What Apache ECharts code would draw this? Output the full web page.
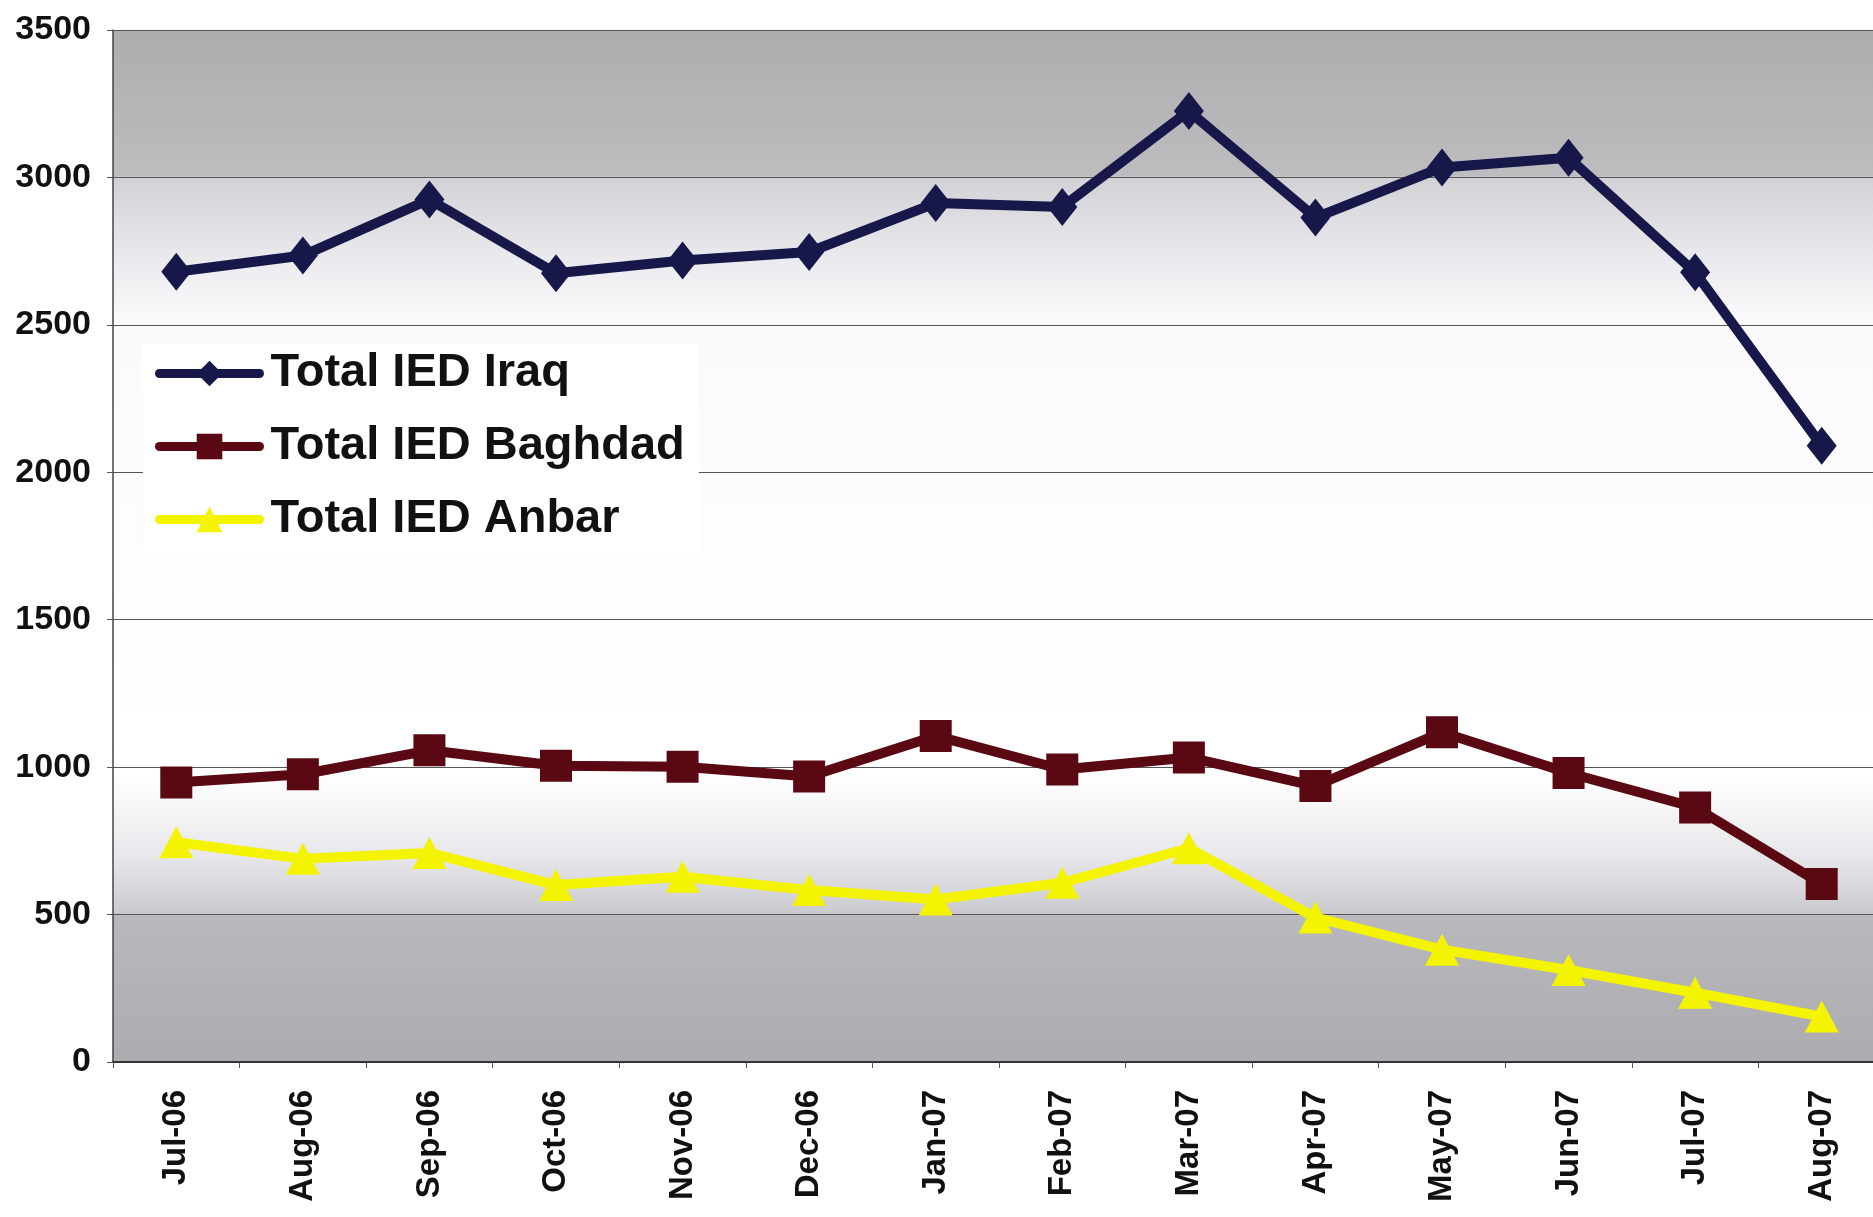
<!DOCTYPE html>
<html>
<head>
<meta charset="utf-8">
<script src="https://cdn.jsdelivr.net/npm/echarts@6/dist/echarts.min.js"></script>
<style>
html,body{margin:0;padding:0;background:#fff;overflow:hidden;}
#chart{width:1885px;height:1217px;}
</style>
</head>
<body>
<div id="chart"></div>
<script>
const months = ["Jul-06","Aug-06","Sep-06","Oct-06","Nov-06","Dec-06","Jan-07","Feb-07","Mar-07","Apr-07","May-07","Jun-07","Jul-07","Aug-07"];
const iraq = [2680, 2735, 2925, 2675, 2718, 2747, 2913, 2900, 3225, 2864, 3034, 3067, 2678, 2090];
const baghdad = [948, 976, 1057, 1005, 1001, 968, 1106, 992, 1033, 936, 1118, 980, 863, 604];
const anbar = [745, 689, 709, 600, 628, 583, 551, 608, 725, 490, 381, 312, 235, 154];
const seriesNames = ["Total IED Iraq", "Total IED Baghdad", "Total IED Anbar"];

const chart = echarts.init(document.getElementById('chart'), null, {renderer:'canvas'});
const bg = new echarts.graphic.LinearGradient(0, 0, 0, 1, [
  {offset: 0.0, color: '#adadb0'},
  {offset: 0.10, color: '#b8b8ba'},
  {offset: 0.141, color: '#bdbdc0'},
  {offset: 0.1435, color: '#d2d2d6'},
  {offset: 0.22, color: '#eaeaee'},
  {offset: 0.28, color: '#fafafc'},
  {offset: 0.72, color: '#ffffff'},
  {offset: 0.80, color: '#e8e8ec'},
  {offset: 0.855, color: '#cbcbcf'},
  {offset: 0.859, color: '#b9b9bd'},
  {offset: 1.0, color: '#acacb0'}
]);
const font = '"Liberation Sans", Arial, sans-serif';
chart.setOption({
  animation: false,
  backgroundColor: '#ffffff',
  grid: {left: 113, top: 30, right: 0, bottom: 155, show: true, backgroundColor: bg, borderWidth: 0},
  legend: {
    orient: 'vertical', left: 143, top: 344,
    backgroundColor: '#ffffff', padding: [6, 14, 10, 12],
    itemWidth: 100, itemHeight: 32, itemGap: 26,
    lineStyle: {width: 9, cap: 'round'},
    textStyle: {fontFamily: font, fontWeight: 'bold', fontSize: 47, color: '#111', padding: [0, 0, 0, 6]},
    data: seriesNames
  },
  xAxis: {
    type: 'category', data: months, boundaryGap: true,
    axisLine: {lineStyle: {color: '#333', width: 2}},
    axisTick: {show: true, length: 6, lineStyle: {color: '#555'}},
    axisLabel: {rotate: 90, margin: 28, fontFamily: font, fontWeight: 'bold', fontSize: 33, color: '#111'}
  },
  yAxis: {
    type: 'value', min: 0, max: 3500, interval: 500,
    axisLine: {show: true, lineStyle: {color: '#444', width: 1.5}},
    axisTick: {show: true, length: 6, lineStyle: {color: '#555'}},
    axisLabel: {margin: 22, fontFamily: font, fontWeight: 'bold', fontSize: 34, color: '#111',
                formatter: function (v) { return String(v); }},
    splitLine: {lineStyle: {color: '#555', width: 1.2}}
  },
  series: [
    {name: seriesNames[0], type: 'line', data: iraq, symbol: 'diamond', symbolSize: [30, 38],
     lineStyle: {width: 10, color: '#17174a'}, itemStyle: {color: '#17174a'}},
    {name: seriesNames[1], type: 'line', data: baghdad, symbol: 'rect', symbolSize: 32,
     lineStyle: {width: 10, color: '#5a0812'}, itemStyle: {color: '#5a0812'}},
    {name: seriesNames[2], type: 'line', data: anbar, symbol: 'triangle', symbolSize: [34, 32],
     lineStyle: {width: 10, color: '#f4f400'}, itemStyle: {color: '#f4f400'}}
  ]
});
</script>
</body>
</html>
